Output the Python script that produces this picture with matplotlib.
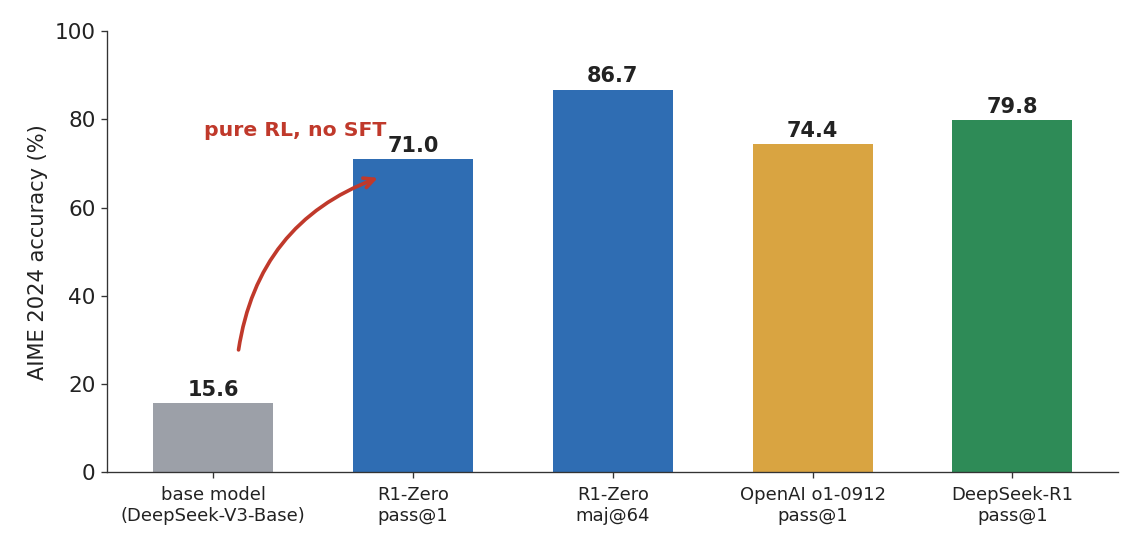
import matplotlib.pyplot as plt

# data
labels = ["base model\n(DeepSeek-V3-Base)", "R1-Zero\npass@1", "R1-Zero\nmaj@64",
          "OpenAI o1-0912\npass@1", "DeepSeek-R1\npass@1"]
scores = [15.6, 71.0, 86.7, 74.4, 79.8]
colors = ["#9ca0a8", "#2f6db3", "#2f6db3", "#d9a441", "#2e8b57"]

plt.rcParams["axes.edgecolor"] = "#333333"
plt.rcParams["xtick.color"] = "#333333"
plt.rcParams["ytick.color"] = "#333333"
plt.rcParams["xtick.labelcolor"] = "#222222"
plt.rcParams["ytick.labelcolor"] = "#222222"
plt.rcParams["axes.labelcolor"] = "#222222"

fig, ax = plt.subplots(figsize=(9.5, 4.625), dpi=120)
fig.subplots_adjust(left=0.094, right=0.981, top=0.944, bottom=0.149)

x = range(len(labels))
bars = ax.bar(x, scores, width=0.6, color=colors)

# value labels above bars
for b, v in zip(bars, scores):
    ax.annotate(f"{v:.1f}", (b.get_x() + b.get_width() / 2, v),
                xytext=(0, 2), textcoords="offset points",
                ha="center", va="bottom", fontsize=12.5, fontweight="bold",
                color="#222222")

# curved arrow from base model to R1-Zero
ax.annotate("", xy=(0.84, 67), xytext=(0.125, 27),
            arrowprops=dict(arrowstyle="->", color="#c0392b", lw=2.2,
                            mutation_scale=15,
                            connectionstyle="arc3,rad=-0.3"))
ax.text(0.41, 77.5, "pure RL, no SFT", color="#c0392b", fontsize=12.2,
        fontweight="bold", ha="center", va="center")

ax.set_ylim(0, 100)
ax.set_xticks(list(x))
ax.set_xticklabels(labels, fontsize=10.8, linespacing=1.25)
ax.tick_params(axis="x", pad=4.5)
ax.tick_params(axis="y", labelsize=13)
ax.set_ylabel("AIME 2024 accuracy (%)", fontsize=12.6)
ax.spines["top"].set_visible(False)
ax.spines["right"].set_visible(False)

plt.savefig("out.png")
